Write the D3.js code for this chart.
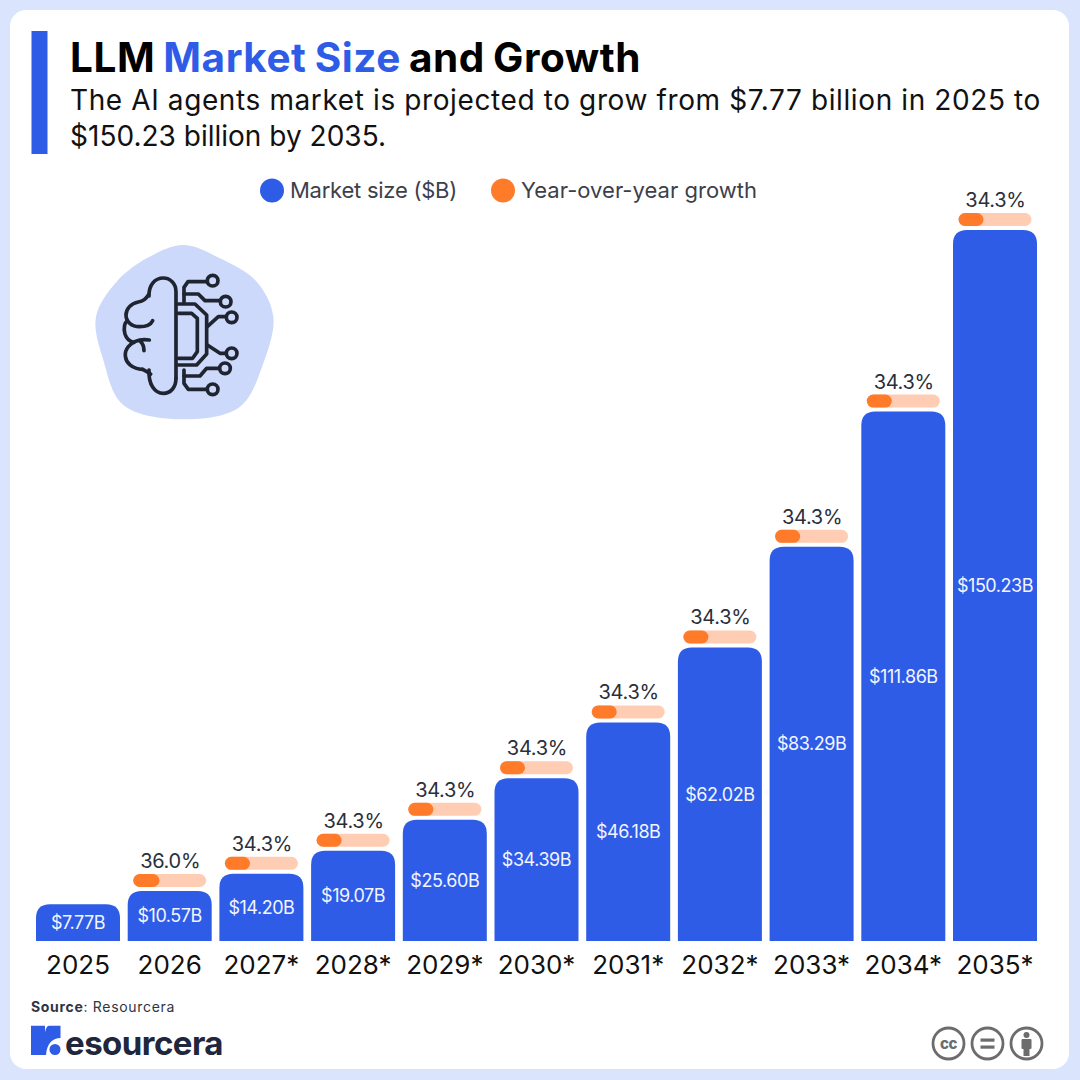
<!DOCTYPE html>
<html>
<head>
<meta charset="utf-8">
<script src="https://cdn.jsdelivr.net/npm/d3@7"></script>
<style>
  html, body { margin: 0; padding: 0; background: #dbe4fd; }
  svg { display: block; }
  text { font-family: Inter, "Noto Sans", sans-serif; }
</style>
</head>
<body>
<svg id="chart" width="1080" height="1080"></svg>
<script>
// values
let years = ["2025", "2026", "2027*", "2028*", "2029*", "2030*", "2031*", "2032*", "2033*", "2034*", "2035*"];
let market_size = [7.77, 10.57, 14.20, 19.07, 25.60, 34.39, 46.18, 62.02, 83.29, 111.86, 150.23];
let growth = [null, 36.0, 34.3, 34.3, 34.3, 34.3, 34.3, 34.3, 34.3, 34.3, 34.3];
let legend_labels = ["Market size ($B)", "Year-over-year growth"];

let blue = "#2e5ce6";
let orange = "#ff7a29";
let peach = "#ffcdb3";
let ink = "#2b2f3a";

let svg = d3.select("#chart");

// squeeze or stretch a text to the width measured in the reference
let fitWidth = function (sel, w) {
  sel.each(function () {
    let n = this.getNumberOfChars();
    let len = this.getComputedTextLength();
    d3.select(this).style("letter-spacing", ((w - len) / n) + "px");
  });
};

svg.append("rect").attr("width", 1080).attr("height", 1080).attr("fill", "#dbe4fd");
svg.append("rect").attr("x", 10).attr("y", 10).attr("width", 1059).attr("height", 1059).attr("rx", 16).attr("fill", "#fff");

// header
svg.append("rect").attr("x", 31.5).attr("y", 31).attr("width", 16).attr("height", 123).attr("fill", blue);

let title = svg.append("text").attr("x", 70).attr("y", 72)
  .attr("font-size", 40.5).attr("font-weight", 700).attr("fill", "#000")
  .style("word-spacing", "-2px");
title.append("tspan").text("LLM ");
title.append("tspan").attr("fill", blue).text("Market Size");
title.append("tspan").text(" and Growth");
fitWidth(title, 571);

let sub1 = svg.append("text").attr("x", 70).attr("y", 110).attr("font-size", 28).attr("fill", "#111")
  .text("The AI agents market is projected to grow from $7.77 billion in 2025 to");
fitWidth(sub1, 971);
let sub2 = svg.append("text").attr("x", 70).attr("y", 146).attr("font-size", 28).attr("fill", "#111")
  .text("$150.23 billion by 2035.");
fitWidth(sub2, 316);

// legend
let legend_x = [272, 503];
let legend_w = [167, 236];
[blue, orange].forEach(function (c, i) {
  svg.append("circle").attr("cx", legend_x[i]).attr("cy", 190.5).attr("r", 12).attr("fill", c);
  let t = svg.append("text").attr("x", legend_x[i] + 18).attr("y", 198)
    .attr("font-size", 22).attr("fill", "#3c404b").text(legend_labels[i]);
  fitWidth(t, legend_w[i]);
});

// scales
let x = d3.scaleBand().domain(years).range([36, 1037]).paddingInner(0.084).paddingOuter(0);
let y = d3.scaleLinear().domain([0, 150.23]).range([941, 230]);
let track = d3.scaleLinear().domain([0, 100]).range([0, 73]);

let rows = years.map(function (d, i) {
  return { year: d, size: market_size[i], growth: growth[i] };
});

// bars, square at the bottom and round on top
let barPath = function (d) {
  let x0 = x(d.year), x1 = x0 + x.bandwidth(), top = y(d.size), r = 14;
  return "M" + x0 + "," + y(0) + "V" + (top + r) + "Q" + x0 + "," + top + " " + (x0 + r) + "," + top +
    "H" + (x1 - r) + "Q" + x1 + "," + top + " " + x1 + "," + (top + r) + "V" + y(0) + "Z";
};
svg.selectAll(".bar").data(rows).enter().append("path")
  .attr("class", "bar").attr("d", barPath).attr("fill", blue);

let value_labels = svg.selectAll(".value").data(rows).enter().append("text")
  .attr("class", "value")
  .attr("x", function (d) { return x(d.year) + x.bandwidth() / 2; })
  .attr("y", function (d) { return (y(d.size) + y(0)) / 2 + 6.5; })
  .attr("text-anchor", "middle").attr("font-size", 18).attr("fill", "#f2f5ff")
  .text(function (d) { return "$" + d.size.toFixed(2) + "B"; })
  .style("letter-spacing", "-0.45px");

// growth pills
let with_growth = rows.filter(function (d) { return d.growth !== null; });
let pillX = function (d) { return x(d.year) + (x.bandwidth() - track(100)) / 2; };

svg.selectAll(".track").data(with_growth).enter().append("rect")
  .attr("class", "track")
  .attr("x", pillX)
  .attr("y", function (d) { return y(d.size) - 17; })
  .attr("width", track(100)).attr("height", 13).attr("rx", 6.5).attr("fill", peach);
svg.selectAll(".fill").data(with_growth).enter().append("rect")
  .attr("class", "fill")
  .attr("x", pillX)
  .attr("y", function (d) { return y(d.size) - 17; })
  .attr("width", function (d) { return track(d.growth); }).attr("height", 13).attr("rx", 6.5).attr("fill", orange);
svg.selectAll(".growth").data(with_growth).enter().append("text")
  .attr("class", "growth")
  .attr("x", function (d) { return x(d.year) + x.bandwidth() / 2 + 0.5; })
  .attr("y", function (d) { return y(d.size) - 23; })
  .attr("text-anchor", "middle").attr("font-size", 20).attr("fill", ink)
  .text(function (d) { return d.growth.toFixed(1) + "%"; })
  .style("letter-spacing", "-0.3px");

// year axis
let axis = svg.append("g").attr("transform", "translate(0,941)")
  .call(d3.axisBottom(x).tickSize(0).tickPadding(10));
axis.select(".domain").remove();
axis.selectAll("text")
  .attr("font-size", 26).attr("fill", "#111")
  .style("font-family", "Inter, sans-serif")
  .attr("dy", "0.9em")
  .style("letter-spacing", "0px");

// brain icon, drawn in 3x units from the zoomed crop
let icon = svg.append("g").attr("transform", "translate(80,230) scale(0.3333)");
let blob_points = [[310, 45], [420, 85], [530, 155], [580, 260], [550, 400], [480, 530], [310, 568], [130, 525], [70, 390], [48, 260], [110, 155], [200, 85]];
icon.append("path").attr("fill", "#cdd9fb")
  .attr("d", d3.line().curve(d3.curveCatmullRomClosed)(blob_points));
let icon_lines = icon.append("g").attr("fill", "none").attr("stroke", "#1f2430").attr("stroke-width", 11)
  .attr("stroke-linejoin", "round").attr("stroke-linecap", "round");
[
  "M288,445 V185 C288,160 270,144 250,144 C225,144 206,165 207,198",
  "M205,195 C198,208 190,214 175,216 C152,220 138,238 138,255 C138,275 155,290 178,290 C197,290 212,285 218,272",
  "M142,272 C130,282 132,300 135,312 C140,328 150,335 162,337",
  "M208,330 C180,326 158,335 145,350 C130,368 135,392 150,405 C162,415 175,418 188,418",
  "M182,335 C190,343 192,352 192,362",
  "M188,418 C197,422 205,428 212,432",
  "M207,420 C205,465 225,490 250,490 C272,490 288,472 288,445",
  "M295,222 H345 L380,255 V372 L350,405 H295",
  "M295,250 H335 L352,265 V365 L338,385 H295",
  "M312,215 V172 L324,155 H380",
  "M312,192 H355 L375,212 H420",
  "M382,290 L415,260 H438",
  "M382,345 L420,370 H437",
  "M312,438 H360 L380,415 H418",
  "M312,420 V460 L325,478 H380"
].forEach(function (d) { icon_lines.append("path").attr("d", d); });
[[398, 152], [437, 215], [455, 262], [455, 370], [435, 415], [398, 478]].forEach(function (c) {
  icon_lines.append("circle").attr("cx", c[0]).attr("cy", c[1]).attr("r", 16);
});

// source and logo
let source = svg.append("text").attr("x", 31).attr("y", 1012).attr("font-size", 14).attr("fill", "#30343f");
source.append("tspan").attr("font-weight", 700).text("Source");
source.append("tspan").text(": Resourcera");
fitWidth(source, 144);

svg.append("path").attr("fill", blue)
  .attr("d", "M31,1025.7 H45 V1033 C45.5,1029 47,1025.7 49,1025.7 H60.5 V1038 C53,1038 47,1043 46,1055 H31 Z");
svg.append("circle").attr("cx", 55).attr("cy", 1049.5).attr("r", 5.5).attr("fill", blue);
let logo = svg.append("text").attr("x", 65).attr("y", 1055).attr("font-size", 33).attr("font-weight", 700)
  .attr("fill", "#20263c").text("esourcera");
fitWidth(logo, 158);

// cc badges
let badge = svg.append("g").attr("fill", "none").attr("stroke", "#6c6c6c").attr("stroke-width", 2.8);
[948.5, 987.5, 1026.5].forEach(function (cx) {
  badge.append("circle").attr("cx", cx).attr("cy", 1043.5).attr("r", 15.5).attr("fill", "#fff");
});
svg.append("text").attr("x", 948.5).attr("y", 1048.5).attr("text-anchor", "middle")
  .attr("font-size", 15).attr("font-weight", 800).attr("fill", "#6c6c6c").style("letter-spacing", "-0.5px").text("cc");
[1038.5, 1045.5].forEach(function (ty) {
  svg.append("rect").attr("x", 980.5).attr("y", ty).attr("width", 14).attr("height", 3.2).attr("fill", "#6c6c6c");
});
svg.append("circle").attr("cx", 1026.5).attr("cy", 1035).attr("r", 3).attr("fill", "#6c6c6c");
svg.append("rect").attr("x", 1021.5).attr("y", 1039).attr("width", 10).attr("height", 10).attr("rx", 1).attr("fill", "#6c6c6c");
svg.append("rect").attr("x", 1023.5).attr("y", 1048).attr("width", 6).attr("height", 8).attr("fill", "#6c6c6c");
</script>
</body>
</html>
